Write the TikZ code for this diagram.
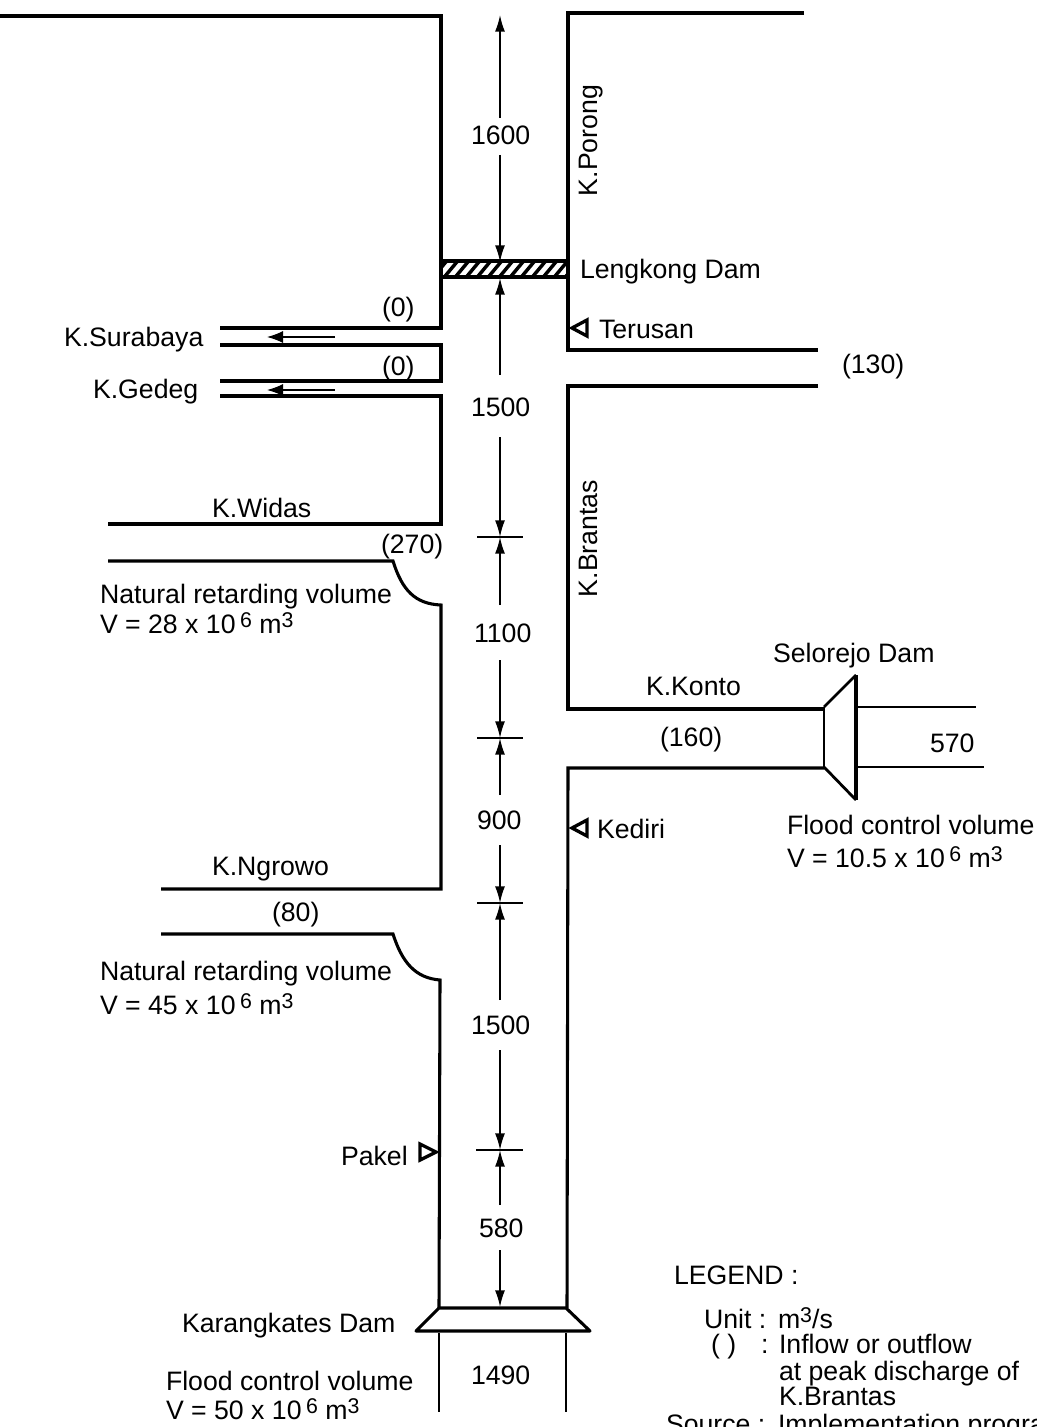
\documentclass[tikz,border=0pt]{standalone}
\usepackage{fontspec}
\setmainfont{Liberation Sans}
\usetikzlibrary{arrows.meta}
\newcommand{\upno}[1]{\raisebox{3.8pt}{\fontsize{16}{16}\selectfont #1}}
\tikzset{
  x=.75pt,y=-.75pt,
  wall/.style={line width=2.3pt,line join=miter},
  thinwall/.style={line width=2.1pt},
  dim/.style={line width=1.2pt,-{Latex[length=12.5pt,width=7.5pt]}},
  tick/.style={line width=.8pt},
  small/.style={line width=.9pt,-{Latex[length=12pt,width=9pt]}},
  lab/.style={anchor=base west,inner sep=0pt,outer sep=0pt,font=\fontsize{20}{22}\selectfont},
  gauge/.style={line width=2.5pt,fill=white,line join=miter},
  hatchline/.style={line width=2.6pt}
}
\begin{document}
\begin{tikzpicture}
\useasboundingbox (0,0) rectangle (1037,1427);
\clip (0,0) rectangle (1037,1427);
% left bank
\draw[wall] (0,16) -- (441,16) -- (441,328) -- (220,328);
\draw[wall] (220,345) -- (441,345) -- (441,381) -- (220,381);
\draw[wall] (220,396) -- (441,396) -- (441,524) -- (108,524);
\draw[wall] (108,561) -- (393,561) .. controls (402,590) and (415,604) .. (441,605) -- (441,889) -- (161,889);
\draw[wall] (161,934) -- (393,934) .. controls (402,962) and (415,978) .. (440,980) -- (439,1308);
% right bank
\draw[wall] (804,13) -- (568,13) -- (568,350) -- (818,350);
\draw[wall] (818,386) -- (568,386) -- (568,709) -- (824,709);
\draw[wall] (824,768) -- (568,768) -- (567,1308);
% Lengkong dam
\begin{scope}
\clip (441,261) rectangle (568,277);
\foreach \hx in {430,441,...,580} {
  \draw[hatchline] (\hx,281) -- (\hx+20,257);
}
\end{scope}
\draw[wall] (441,261) rectangle (568,277);
% Karangkates dam
\draw[wall,line join=round] (439,1308) -- (566,1308) -- (590,1331) -- (416,1331) -- cycle;
\draw[thinwall] (439,1333) -- (439,1412);
\draw[thinwall] (566,1333) -- (566,1412);
% Selorejo dam
\draw[thinwall] (824,707) -- (856,675);
\draw[thinwall] (824,767) -- (856,800);
\draw[thinwall] (824,707) -- (824,767);
\draw[wall] (856,675) -- (856,800);
\draw[thinwall] (856,707) -- (976,707);
\draw[thinwall] (856,767) -- (984,767);
% dimension arrows
\draw[dim] (500,118) -- (500,15);
\draw[dim] (500,155) -- (500,262);
\draw[dim] (500,375) -- (500,278);
\draw[dim] (500,437) -- (500,537);
\draw[dim] (500,605) -- (500,537);
\draw[dim] (500,660) -- (500,738);
\draw[dim] (500,795) -- (500,738);
\draw[dim] (500,845) -- (500,903);
\draw[dim] (500,1000) -- (500,903);
\draw[dim] (500,1050) -- (500,1150);
\draw[dim] (500,1205) -- (500,1150);
\draw[dim] (500,1250) -- (500,1307);
\draw[tick] (477,537) -- (523,537);
\draw[tick] (477,738) -- (523,738);
\draw[tick] (477,903) -- (523,903);
\draw[tick] (476,1150) -- (523,1150);
% outflow arrows
\draw[small] (335,337) -- (267,337);
\draw[small] (335,390) -- (267,390);
% gauging triangles
\draw[gauge] (572,328) -- (587,320) -- (587,336) -- cycle;
\draw[gauge] (572,828) -- (587,820) -- (587,836) -- cycle;
\draw[gauge] (436,1152) -- (420,1144) -- (420,1160) -- cycle;
% labels
\node[lab] (a1) at (471,145) {1600};
\node[lab,rotate=90] (a2) at (597,196) {K.Porong};
\node[lab] (a3) at (580,278) {Lengkong Dam};
\node[lab] (a4) at (599,338) {Terusan};
\node[lab] (a5) at (842,373) {(130)};
\node[lab] (a6) at (382,316) {(0)};
\node[lab] (a7) at (382,375) {(0)};
\node[lab] (a8) at (64,346) {K.Surabaya};
\node[lab] (a9) at (93,398) {K.Gedeg};
\node[lab] (a10) at (471,416) {1500};
\node[lab] (a11) at (212,517) {K.Widas};
\node[lab] (a12) at (381,553) {(270)};
\node[lab,rotate=90] (a13) at (597,597) {K.Brantas};
\node[lab] (a14) at (100,603) {Natural retarding volume};
\node[lab] (a15) at (100,633) {V = 28 x 10\,\upno{6} m\upno{3}};
\node[lab] (a16) at (474,642) {1100};
\node[lab] (a17) at (773,662) {Selorejo Dam};
\node[lab] (a18) at (646,695) {K.Konto};
\node[lab] (a19) at (660,746) {(160)};
\node[lab] (a20) at (930,752) {570};
\node[lab] (a21) at (477,829) {900};
\node[lab] (a22) at (597,838) {Kediri};
\node[lab] (a23) at (787,834) {Flood control volume};
\node[lab] (a24) at (787,867) {V = 10.5 x 10\,\upno{6} m\upno{3}};
\node[lab] (a25) at (212,875) {K.Ngrowo};
\node[lab] (a26) at (272,921) {(80)};
\node[lab] (a27) at (100,980) {Natural retarding volume};
\node[lab] (a28) at (100,1014) {V = 45 x 10\,\upno{6} m\upno{3}};
\node[lab] (a29) at (471,1034) {1500};
\node[lab] (a30) at (341,1165) {Pakel};
\node[lab] (a31) at (479,1237) {580};
\node[lab] (a32) at (182,1332) {Karangkates Dam};
\node[lab] (a33) at (471,1384) {1490};
\node[lab] (a34) at (166,1390) {Flood control volume};
\node[lab] (a35) at (166,1419) {V = 50 x 10\,\upno{6} m\upno{3}};
\node[lab] (a36) at (674,1284) {LEGEND :};
\node[lab] (a37) at (704,1328) {Unit :};
\node[lab] (a38) at (778,1328) {m\upno{3}/s};
\node[lab] (a39) at (711,1353) {( )};
\node[lab] (a40) at (761,1353) {:};
\node[lab] (a41) at (779,1353) {Inflow or outflow};
\node[lab] (a42) at (779,1380) {at peak discharge of};
\node[lab] (a43) at (779,1405) {K.Brantas};
\node[lab] (a44) at (666,1433) {Source :};
\node[lab] (a45) at (778,1433) {Implementation progra};
\end{tikzpicture}
\end{document}
